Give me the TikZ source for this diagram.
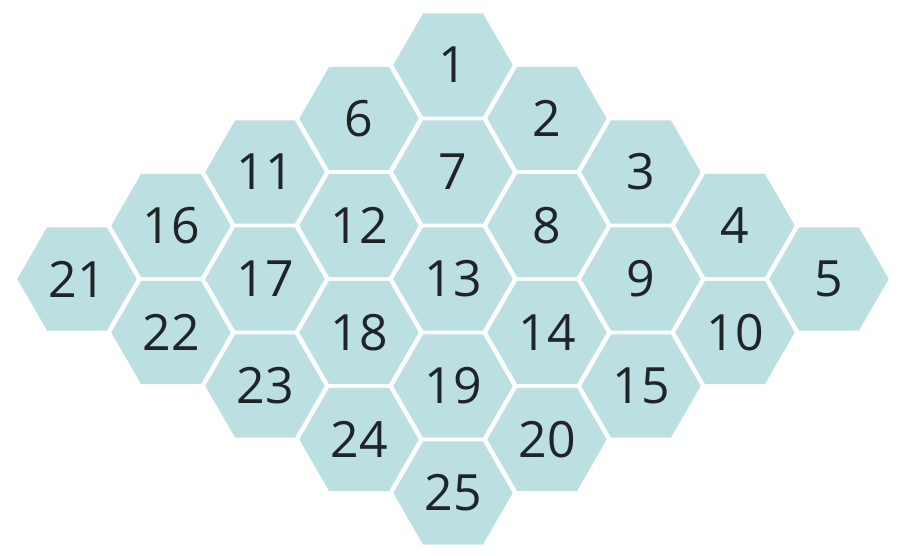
\documentclass[tikz,border=0pt]{standalone}
\usepackage{fontspec}
\setmainfont{Open Sans}
\usetikzlibrary{shapes.geometric}
\definecolor{hexfill}{HTML}{BCE0E2}
\definecolor{hextext}{HTML}{1F2429}
\begin{document}
\begin{tikzpicture}[x=1pt,y=1pt,
  hexcell/.style={regular polygon, regular polygon sides=6,
    minimum size=119.4pt, inner sep=0pt, fill=hexfill, draw=none,
    text=hextext, font=\fontsize{50}{50}\selectfont}]
\useasboundingbox (0,0) rectangle (917,-556);
\foreach \r in {0,...,4}{
  \foreach \c in {0,...,4}{
    \pgfmathtruncatemacro{\n}{5*\r+\c+1}
    \node[hexcell] (h\n) at ({453+94*(\c-\r)},{-65-53.5*(\c+\r)}) {\n};
  }
}
\end{tikzpicture}
\end{document}
